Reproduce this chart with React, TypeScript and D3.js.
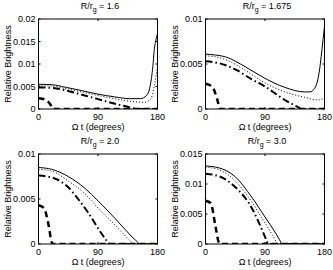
import React from "react";
import * as d3 from "d3";

type Pt = [number, number];

const titles = ["1.6", "1.675", "2.0", "3.0"];
const yMaxes = [0.02, 0.01, 0.01, 0.015];
const yTicks = [
  [0, 0.005, 0.01, 0.015, 0.02],
  [0, 0.005, 0.01],
  [0, 0.005, 0.01],
  [0, 0.005, 0.01, 0.015],
];
const yTickLabels = [
  ["0", "0.005", "0.01", "0.015", "0.02"],
  ["0", "0.005", "0.01"],
  ["0", "0.005", "0.01"],
  ["0", "0.005", "0.01", "0.015"],
];
const xTicks = [0, 90, 180];

// Panel 1: R/rg = 1.6
const p1Solid: Pt[] = [[0,0.0055],[20,0.0054],[42,0.0048],[65,0.0041],[90,0.0033],[115,0.0027],[138,0.0023],[154,0.0023],[164,0.0031],[168,0.0045],[171,0.007],[173,0.0095],[175,0.013],[178,0.0156],[180,0.0167]];
const p1Dotted: Pt[] = [[0,0.0052],[20,0.0051],[42,0.0045],[65,0.0038],[90,0.003],[115,0.0023],[140,0.0017],[160,0.0015],[168,0.002],[172,0.003],[175,0.005],[178,0.0075],[180,0.0095]];
const p1DashDot: Pt[] = [[0,0.0048],[20,0.0047],[45,0.004],[70,0.003],[90,0.0022],[120,0.001],[140,0.0003],[150,0],[180,0]];
const p1Dashed: Pt[] = [[0,0.0024],[10,0.0021],[18,0.001],[22,0],[180,0]];

// Panel 2: R/rg = 1.675
const p2Solid: Pt[] = [[0,0.0061],[15,0.006],[30,0.0058],[60,0.0047],[90,0.0034],[120,0.0024],[150,0.0019],[158,0.0019],[165,0.0023],[169,0.003],[172,0.0041],[176,0.0065],[180,0.0092]];
const p2Dotted: Pt[] = [[0,0.0059],[15,0.0058],[30,0.0055],[60,0.0043],[90,0.0029],[120,0.0019],[150,0.0013],[170,0.001],[180,0.0012]];
const p2DashDot: Pt[] = [[0,0.0053],[20,0.0051],[45,0.0044],[70,0.0033],[90,0.0025],[120,0.001],[140,0.0002],[145,0],[180,0]];
const p2Dashed: Pt[] = [[0,0.0028],[10,0.0025],[18,0.001],[22,0],[180,0]];

// Panel 3: R/rg = 2.0
const p3Solid: Pt[] = [[0,0.0085],[20,0.0083],[45,0.0075],[70,0.0062],[90,0.0048],[120,0.0025],[140,0.0009],[150,0.0002],[153,0],[180,0]];
const p3Dotted: Pt[] = [[0,0.0083],[20,0.0081],[45,0.007],[70,0.0056],[90,0.004],[120,0.0018],[138,0.0004],[145,0],[180,0]];
const p3DashDot: Pt[] = [[0,0.0076],[20,0.0074],[45,0.0063],[60,0.005],[75,0.0035],[95,0.0012],[104,0.0003],[108,0],[180,0]];
const p3Dashed: Pt[] = [[0,0.0043],[8,0.004],[15,0.0022],[20,0.0002],[22,0],[180,0]];

// Panel 4: R/rg = 3.0
const p4Solid: Pt[] = [[0,0.013],[20,0.0127],[45,0.0112],[70,0.0078],[90,0.0045],[105,0.002],[112,0.0007],[116,0],[180,0]];
const p4Dotted: Pt[] = [[0,0.0128],[20,0.0124],[45,0.0105],[70,0.007],[90,0.0035],[103,0.0012],[110,0],[180,0]];
const p4DashDot: Pt[] = [[0,0.0117],[20,0.0113],[45,0.0095],[70,0.006],[85,0.0025],[92,0.0007],[95,0],[180,0]];
const p4Dashed: Pt[] = [[0,0.0072],[8,0.0068],[15,0.003],[20,0.0003],[22,0],[180,0]];

const panelsData = [
  [p1Solid, p1Dotted, p1DashDot, p1Dashed],
  [p2Solid, p2Dotted, p2DashDot, p2Dashed],
  [p3Solid, p3Dotted, p3DashDot, p3Dashed],
  [p4Solid, p4Dotted, p4DashDot, p4Dashed],
];

const styles = [
  { w: 1, dash: "" },
  { w: 1, dash: "1,2" },
  { w: 2, dash: "7,3,1.5,3" },
  { w: 2.5, dash: "6,4" },
];

const W = 119;
const H = 90;
const origins: Pt[] = [[38.5, 19], [205.5, 19], [38.5, 154], [205.5, 154]];
const FONT = "'Liberation Sans', Arial, Helvetica, sans-serif";

function Panel({ idx }: { idx: number }) {
  const [ox, oy] = origins[idx];
  const x = d3.scaleLinear().domain([0, 180]).range([0, W]);
  const y = d3.scaleLinear().domain([0, yMaxes[idx]]).range([H, 0]);
  const line = d3
    .line<Pt>()
    .x((d) => x(d[0]))
    .y((d) => y(d[1]))
    .curve(d3.curveMonotoneX);
  const tl = 2;
  return (
    <g transform={`translate(${ox},${oy})`} fontFamily={FONT} fontSize={9} fill="#000">
      <defs>
        <clipPath id={`clip${idx}`}>
          <rect x={0} y={-1} width={W} height={H + 1} />
        </clipPath>
      </defs>
      <g clipPath={`url(#clip${idx})`}>
        {panelsData[idx].map((s, i) => (
          <path
            key={i}
            d={line(s) || ""}
            fill="none"
            stroke="#000"
            strokeWidth={styles[i].w}
            strokeDasharray={styles[i].dash || undefined}
          />
        ))}
      </g>
      <rect x={0} y={0} width={W} height={H} fill="none" stroke="#000" strokeWidth={1} />
      {xTicks.map((t) => (
        <g key={"x" + t}>
          <line x1={x(t)} x2={x(t)} y1={H} y2={H - tl} stroke="#000" />
          <line x1={x(t)} x2={x(t)} y1={0} y2={tl} stroke="#000" />
          <text x={x(t)} y={H + 11} textAnchor="middle">{t}</text>
        </g>
      ))}
      {yTicks[idx].map((t, i) => (
        <g key={"y" + t}>
          <line x1={0} x2={tl} y1={y(t)} y2={y(t)} stroke="#000" />
          <line x1={W} x2={W - tl} y1={y(t)} y2={y(t)} stroke="#000" />
          <text x={-3} y={y(t) + 3.2} textAnchor="end">{yTickLabels[idx][i]}</text>
        </g>
      ))}
      <text x={W / 2} y={H + 21} textAnchor="middle">Ω t (degrees)</text>
      <text transform={`translate(${-28},${H / 2}) rotate(-90)`} textAnchor="middle">
        Relative Brightness
      </text>
      <text x={W / 2 + 2} y={-10} textAnchor="middle">
        R/r<tspan fontSize={7} dy={3}>g</tspan>
        <tspan dy={-3}> = {titles[idx]}</tspan>
      </text>
    </g>
  );
}

export default function App() {
  return (
    <svg width={333} height={270} style={{ position: "absolute", left: 0, top: 0, background: "#fff" }}>
      <rect width={333} height={270} fill="#fff" />
      {[0, 1, 2, 3].map((i) => (
        <Panel key={i} idx={i} />
      ))}
    </svg>
  );
}
